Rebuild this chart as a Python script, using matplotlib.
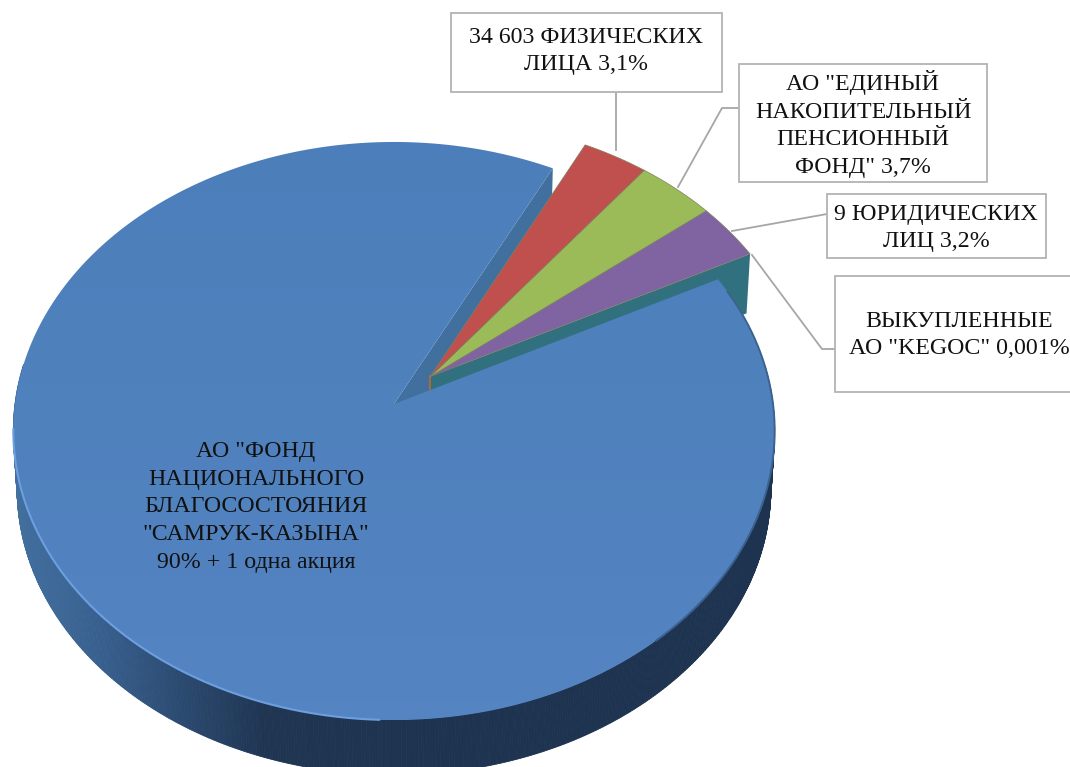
import numpy as np
import matplotlib
matplotlib.use('Agg')
import matplotlib.pyplot as plt
from matplotlib.collections import PolyCollection
from matplotlib.colors import LinearSegmentedColormap
from matplotlib.patches import Polygon, Rectangle

plt.rcParams['font.family'] = ['Liberation Serif', 'DejaVu Serif']

# shares in drawing order, counter-clockwise from the start angle
shares = [0.001, 3.2, 3.7, 3.1, 90.0]
slice_colors = ['#31707f', '#8064a2', '#9bbb59', '#c0504d', '#4f81bd']

main_label = 'АО "ФОНД\nНАЦИОНАЛЬНОГО\nБЛАГОСОСТОЯНИЯ\n"САМРУК-КАЗЫНА"\n90% + 1 одна акция'
red_label = '34 603 ФИЗИЧЕСКИХ\nЛИЦА 3,1%'
green_label = 'АО "ЕДИНЫЙ\nНАКОПИТЕЛЬНЫЙ\nПЕНСИОННЫЙ\nФОНД" 3,7%'
purple_label = '9 ЮРИДИЧЕСКИХ\nЛИЦ 3,2%'
tiny_label = 'ВЫКУПЛЕННЫЕ\nАО "KEGOC" 0,001%'

START_ANGLE = 27.0
EXPLODE = 0.137

# perspective of the pie plane, in pixels
CX, CY = 394.0, 404.0
RX, RY = 379.0, 286.5
PERSP = 0.0934
DEPTH, SHRINK = 58.0, 0.99


def project(u, v, lower=False):
    """Takes pie plane coordinates to image pixels, top face or bottom face."""
    w = 1 + PERSP * v
    x = CX + RX * u / w
    y = CY - RY * v / w
    if lower:
        x = CX + (x - CX) * SHRINK
        y = CY + (y - CY) * SHRINK + DEPTH
    return x, y


def arc(a0, a1, off=(0, 0), lower=False):
    t = np.radians(np.linspace(a0, a1, max(int(abs(a1 - a0) * 2), 2)))
    return project(off[0] + np.cos(t), off[1] + np.sin(t), lower)


def wedge(a0, a1, off=(0, 0), lower=False):
    x, y = arc(a0, a1, off, lower)
    ox, oy = project(off[0], off[1], lower)
    return np.column_stack([np.r_[ox, x], np.r_[oy, y]])


fig = plt.figure(figsize=(10.7, 7.67), dpi=100)
ax = fig.add_axes([0, 0, 1, 1])

edges = START_ANGLE + np.r_[0, np.cumsum(shares)] * 3.6
gap_mid = np.radians((edges[0] + edges[-2]) / 2)
off = (EXPLODE * np.cos(gap_mid), EXPLODE * np.sin(gap_mid))

# cut face of the big slice
tx, ty = project(np.cos(np.radians(edges[4])), np.sin(np.radians(edges[4])))
bx, by = project(np.cos(np.radians(edges[4])), np.sin(np.radians(edges[4])), True)
ox, oy = project(0, 0)
obx, oby = project(0, 0, True)
ax.add_patch(Polygon([(ox, oy), (tx, ty), (bx, by), (obx, oby)], fc='#41709f', ec='none', zorder=1))

# cut face of the tiny slice
t0 = np.radians(edges[0])
p1 = project(off[0] + np.cos(t0), off[1] + np.sin(t0))
p2 = project(off[0] + np.cos(t0), off[1] + np.sin(t0), True)
p0 = project(off[0], off[1])
p3 = project(off[0], off[1], True)
ax.add_patch(Polygon([p0, p1, p2, p3], fc=slice_colors[0], ec='none', zorder=1))
ax.plot([p0[0], p0[0]], [p0[1], p0[1] + 14], color='#b5693a', lw=1.3, zorder=1.5)

# tops of the small slices
for i in range(1, 4):
    ax.add_patch(Polygon(wedge(edges[i], edges[i + 1], off), fc=slice_colors[i],
                         ec='#7f7f5f', lw=0.5, joinstyle='round', zorder=2))

# outer wall of the big slice, shaded from left to right
wall_cmap = LinearSegmentedColormap.from_list(
    'wall', ['#43709f', '#38608f', '#2b4a70', '#1f3552', '#1e3450', '#1d3350'])
angles = np.linspace(172, 368, 500)
quads = []
quad_colors = []
for a0, a1 in zip(angles[:-1], angles[1:]):
    x0, y0 = arc(a0, a1)
    x1, y1 = arc(a0, a1, lower=True)
    quads.append(np.column_stack([np.r_[x0, x1[::-1]], np.r_[y0, y1[::-1]]]))
    quad_colors.append(wall_cmap(np.clip((x0[0] - 12) / 420, 0, 1)))
ax.add_collection(PolyCollection(quads, facecolors=quad_colors, edgecolors=quad_colors,
                                 linewidths=0.6, zorder=3))

# top of the big slice with a soft vertical gradient
top = Polygon(wedge(edges[4], edges[5]), fc='none', ec='none', zorder=4)
ax.add_patch(top)
top_cmap = LinearSegmentedColormap.from_list('top', ['#4a7db9', '#4f81bd', '#5585c3'])
grad = ax.imshow(np.linspace(0, 1, 256)[:, None], cmap=top_cmap, aspect='auto',
                 extent=(0, 1070, 767, 0), origin='upper', zorder=4)
grad.set_clip_path(top)

# rim light on the lower left, dark edge on the right
rx, ry = arc(185, 268)
ax.plot(rx, ry, color='#6d9fe0', lw=1.5, solid_capstyle='round', zorder=5)
rx, ry = arc(-50, 24)
ax.plot(rx, ry, color='#3c628f', lw=1.4, zorder=5)

# labels and leader lines
leader = '#a6a6a6'
box_edge = '#b3b3b3'
boxes = [
    (451, 13, 271, 79, 586, 51, red_label),
    (739, 64, 248, 118, 863, 124, green_label),
    (827, 194, 219, 64, 936, 228, purple_label),
    (835, 276, 240, 116, 959, 335, tiny_label),
]
leaders = [
    ([616, 616], [92, 150]),
    ([739, 722, 678], [108, 108, 187]),
    ([827, 732], [214, 231]),
    ([835, 822, 752], [349, 349, 255]),
]
for lx, ly in leaders:
    ax.plot(lx, ly, color=leader, lw=1.3, zorder=1.8)
for (x, y, w, h, tx_pos, ty_pos, label) in boxes:
    ax.add_patch(Rectangle((x, y), w, h, fc='white', ec=box_edge, lw=1.3, zorder=6))
    ax.text(tx_pos, ty_pos, label, ha='center', va='center', fontsize=17.2,
            linespacing=1.42, color='#111111', zorder=7)

ax.text(256, 507, main_label, ha='center', va='center', fontsize=17.2,
        linespacing=1.42, color='#111111', zorder=7)

ax.set_xlim(0, 1070)
ax.set_ylim(767, 0)
ax.axis('off')
fig.savefig('out.png', dpi=100, facecolor='white')
